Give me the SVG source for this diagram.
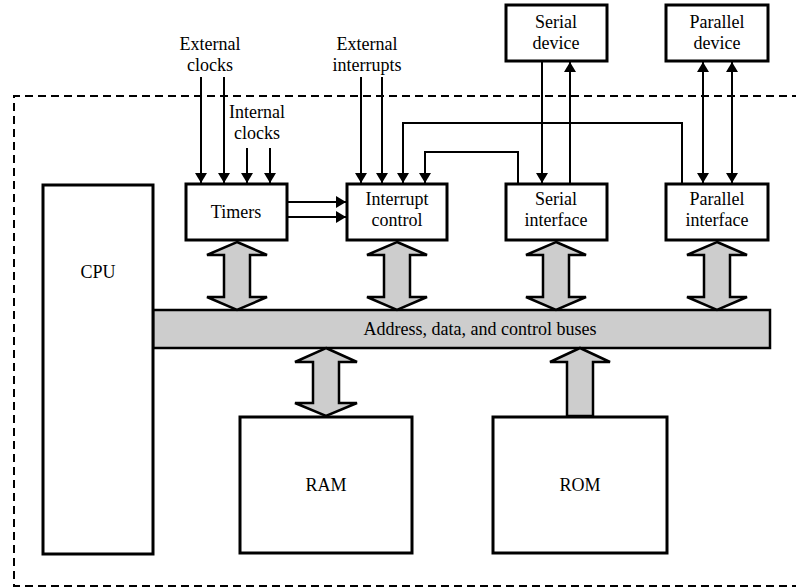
<svg xmlns="http://www.w3.org/2000/svg" width="796" height="588" viewBox="0 0 796 588">
<style>
.box{fill:#fff;stroke:#000;stroke-width:3}
.t{font-family:"Liberation Serif","Times New Roman","DejaVu Serif",serif;font-size:18px;fill:#000;text-anchor:middle}
.ln{fill:none;stroke:#000;stroke-width:2}
.blk{fill:#cdcdcd;stroke:#000;stroke-width:2.5;stroke-linejoin:miter}
</style>
<defs>
<marker id="ah" viewBox="0 0 10 12" refX="10" refY="6" markerWidth="10" markerHeight="12" markerUnits="userSpaceOnUse" orient="auto-start-reverse">
<path d="M0,0 L10,6 L0,12 Z" fill="#000"/>
</marker>
</defs>
<rect x="0" y="0" width="796" height="588" fill="#fff"/>
<path d="M800,96 H14 V586 H800" fill="none" stroke="#000" stroke-width="2" stroke-dasharray="8,5"/>

<g id="bus">
<rect x="153" y="310" width="617" height="38" fill="#cdcdcd" stroke="#000" stroke-width="2.5"/>
<text class="t" x="480" y="335">Address, data, and control buses</text>
</g>
<g id="cpu"><rect class="box" x="43" y="185" width="110" height="369"/><text class="t" x="98" y="278">CPU</text></g>
<g id="timers"><rect class="box" x="186" y="184" width="101" height="56"/><text class="t" x="236" y="218">Timers</text></g>
<g id="interrupt"><rect class="box" x="347" y="184" width="100" height="56"/><text class="t" x="397" y="205">Interrupt</text><text class="t" x="397" y="226">control</text></g>
<g id="serialif"><rect class="box" x="506" y="184" width="101" height="56"/><text class="t" x="556" y="205">Serial</text><text class="t" x="556" y="226">interface</text></g>
<g id="parallelif"><rect class="box" x="666" y="184" width="102" height="56"/><text class="t" x="717" y="205">Parallel</text><text class="t" x="717" y="226">interface</text></g>
<g id="serialdev"><rect class="box" x="506" y="5" width="101" height="56"/><text class="t" x="556" y="28">Serial</text><text class="t" x="556" y="49">device</text></g>
<g id="paralleldev"><rect class="box" x="666" y="5" width="102" height="56"/><text class="t" x="717" y="28">Parallel</text><text class="t" x="717" y="49">device</text></g>
<g id="ram"><rect class="box" x="240" y="417" width="172" height="136"/><text class="t" x="326" y="491">RAM</text></g>
<g id="rom"><rect class="box" x="493" y="417" width="174" height="136"/><text class="t" x="580" y="491">ROM</text></g>
<g id="extclk"><text class="t" x="210" y="50">External</text><text class="t" x="210" y="71">clocks</text></g>
<g id="intclk"><text class="t" x="257" y="118">Internal</text><text class="t" x="257" y="139">clocks</text></g>
<g id="extint"><text class="t" x="367" y="50">External</text><text class="t" x="367" y="71">interrupts</text></g>

<g id="connectors">
<line class="ln" x1="201" y1="77" x2="201" y2="183" marker-end="url(#ah)"/>
<line class="ln" x1="224" y1="77" x2="224" y2="183" marker-end="url(#ah)"/>
<line class="ln" x1="247" y1="148" x2="247" y2="183" marker-end="url(#ah)"/>
<line class="ln" x1="270" y1="148" x2="270" y2="183" marker-end="url(#ah)"/>
<line class="ln" x1="361" y1="77" x2="361" y2="183" marker-end="url(#ah)"/>
<line class="ln" x1="382" y1="77" x2="382" y2="183" marker-end="url(#ah)"/>
<line class="ln" x1="288" y1="202" x2="346" y2="202" marker-end="url(#ah)"/>
<line class="ln" x1="288" y1="217" x2="346" y2="217" marker-end="url(#ah)"/>
<polyline class="ln" points="682,183 682,123 403,123 403,183" marker-end="url(#ah)"/>
<polyline class="ln" points="518,183 518,152 425,152 425,183" marker-end="url(#ah)"/>
<line class="ln" x1="542" y1="62" x2="542" y2="183" marker-end="url(#ah)"/>
<line class="ln" x1="570" y1="183" x2="570" y2="62" marker-end="url(#ah)"/>
<line class="ln" x1="703" y1="62" x2="703" y2="183" marker-start="url(#ah)" marker-end="url(#ah)"/>
<line class="ln" x1="732" y1="62" x2="732" y2="183" marker-start="url(#ah)" marker-end="url(#ah)"/>
<path class="blk" d="M237,242 L267,255 L250,255 L250,297 L267,297 L237,310 L207,297 L224,297 L224,255 L207,255 Z"/>
<path class="blk" d="M397,242 L427,255 L410,255 L410,297 L427,297 L397,310 L367,297 L384,297 L384,255 L367,255 Z"/>
<path class="blk" d="M556,242 L586,255 L569,255 L569,297 L586,297 L556,310 L526,297 L543,297 L543,255 L526,255 Z"/>
<path class="blk" d="M717,242 L747,255 L730,255 L730,297 L747,297 L717,310 L687,297 L704,297 L704,255 L687,255 Z"/>
<path class="blk" d="M326,348 L357,362 L339,362 L339,403 L357,403 L326,416 L295,403 L313,403 L313,362 L295,362 Z"/>
<path class="blk" d="M580,348 L610,362 L593,362 L593,416 L567,416 L567,362 L550,362 Z"/>
</g>
</svg>
